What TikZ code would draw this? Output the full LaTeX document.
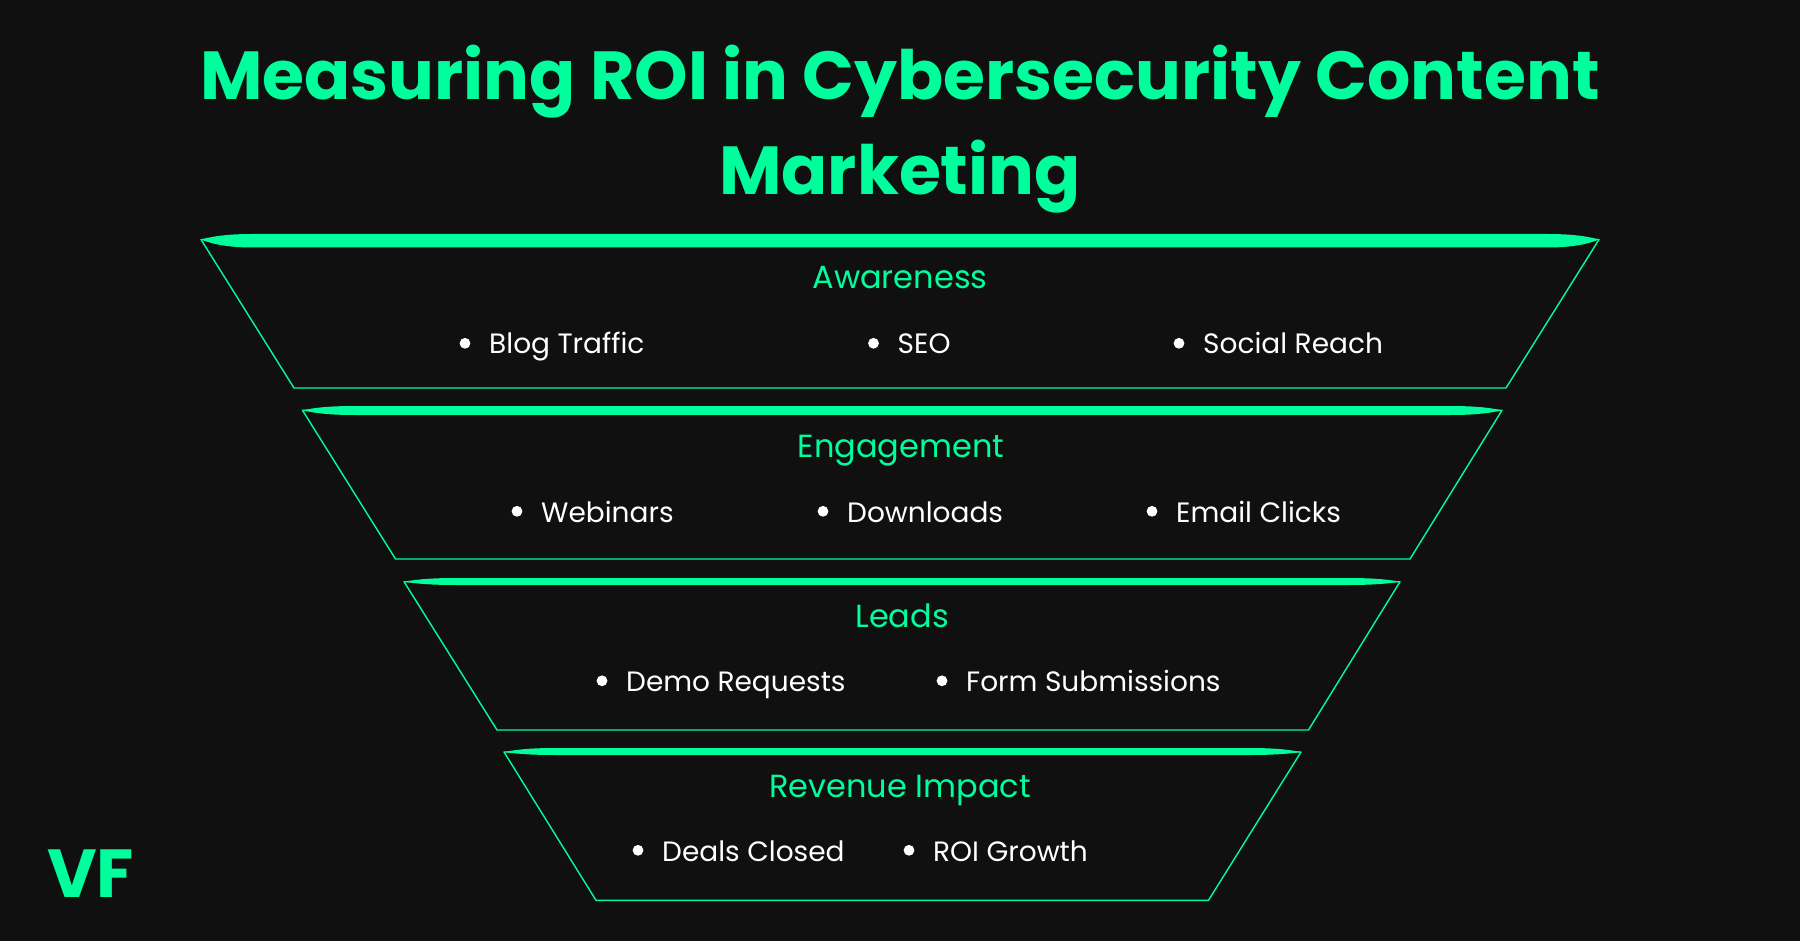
\documentclass[tikz,border=0pt]{standalone}
\usepackage{fontspec}
\setmainfont{Poppins}
\definecolor{bgdark}{HTML}{101010}
\definecolor{vfgreen}{HTML}{00FF9C}
\begin{document}
\begin{tikzpicture}[x=1pt,y=-1pt,
    bandline/.style={draw=vfgreen,line width=1.4pt,line join=round},
    headtext/.style={text=vfgreen,font=\bfseries\fontsize{68}{68}\selectfont,anchor=base},
    bandtitle/.style={text=vfgreen,font=\fontsize{32}{32}\selectfont,anchor=base},
    itemtext/.style={text=white,font=\fontsize{28}{28}\selectfont,anchor=base west,inner sep=0pt}]
  \fill[bgdark] (0,0) rectangle (1800,941);
  \useasboundingbox (0,0) rectangle (1800,941);
  \node[headtext] (titleone) at (900,99.5) {Measuring ROI in Cybersecurity Content};
  \node[headtext] (titletwo) at (900,195) {Marketing};
  % funnel bands: corners, top y, bottom y, bar above and below the top edge
  \foreach \tl/\tr/\bl/\br/\ty/\by/\up/\dn in {201/1599/294/1506/239.5/388/5.5/8,302.5/1502/395.5/1410/410.3/559/4.3/4.7,404/1400/497/1308.5/581.7/730/3.7/3.3,504/1301/596/1208.5/752/900.3/4/3}{
     \draw[bandline] (\tl,\ty)--(\tr,\ty)--(\br,\by)--(\bl,\by)--cycle;
     \fill[vfgreen] (\tl,\ty) .. controls (\tl+14,\ty-0.7*\up) and (\tl+30,\ty-\up) .. (\tl+52,\ty-\up)
        -- (\tr-52,\ty-\up) .. controls (\tr-30,\ty-\up) and (\tr-14,\ty-0.7*\up) .. (\tr,\ty)
        .. controls (\tr-14,\ty+0.7*\dn) and (\tr-30,\ty+\dn) .. (\tr-52,\ty+\dn)
        -- (\tl+52,\ty+\dn) .. controls (\tl+30,\ty+\dn) and (\tl+14,\ty+0.7*\dn) .. (\tl,\ty)--cycle;
  }
  \node[bandtitle] (awareness) at (900,289) {Awareness};
  \node[bandtitle] (engagement) at (901,457) {Engagement};
  \node[bandtitle] (leads) at (902,627) {Leads};
  \node[bandtitle] (revenue) at (900,797) {Revenue Impact};
  \foreach \x/\y/\lab/\nm in {489/354/Blog Traffic/blog,897.5/354/SEO/seo,1203/354/Social Reach/social,
     541/522/Webinars/webinars,847/522/Downloads/downloads,1176/522/Email Clicks/email,
     626/691.5/Demo Requests/demo,966/691.5/Form Submissions/form,
     662/861/Deals Closed/deals,933/861/ROI Growth/roi}{
     \node[itemtext] (\nm) at (\x,\y) {\lab};
     \fill[white] (\x-24,\y-10.7) circle(5.4);
  }
  \node[text=vfgreen,font=\bfseries\fontsize{68}{68}\selectfont,anchor=base west,inner sep=0pt] (logo) at (47,897) {VF};
\end{tikzpicture}
\end{document}
